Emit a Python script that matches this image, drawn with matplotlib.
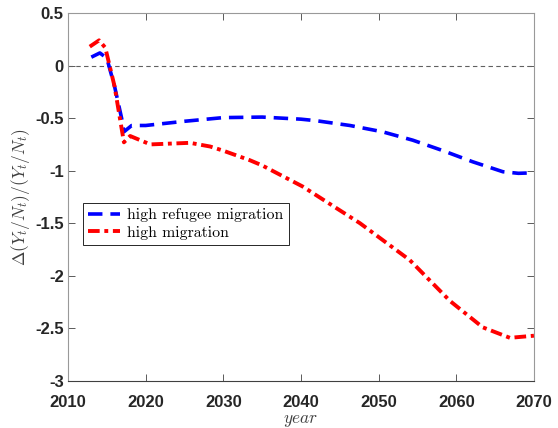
import numpy as np
import matplotlib
matplotlib.use('Agg')
import matplotlib.pyplot as plt

plt.rcParams['axes.unicode_minus'] = False
plt.rcParams['mathtext.fontset'] = 'cm'

# data
years_refugee = [2013, 2014.1, 2015, 2016, 2016.9, 2017.2, 2018.2, 2020, 2025, 2030,
                 2035, 2040, 2042, 2046.3, 2050.5, 2054.4, 2058.3, 2062.1, 2066, 2068, 2070]
refugee = [0.08, 0.12, 0.07, -0.2, -0.5, -0.63, -0.57, -0.57, -0.53, -0.495,
           -0.49, -0.51, -0.525, -0.57, -0.63, -0.71, -0.81, -0.915, -1.01, -1.025, -1.02]

years_migr = [2012.8, 2014, 2014.8, 2016, 2017.2, 2018, 2020.6, 2025.7, 2028.3, 2030,
              2033.4, 2035, 2040.2, 2047.6, 2054, 2059.2, 2063.4, 2066.9, 2070]
migr = [0.18, 0.24, 0.17, -0.2, -0.73, -0.67, -0.75, -0.735, -0.77, -0.81,
        -0.90, -0.95, -1.15, -1.50, -1.85, -2.24, -2.49, -2.59, -2.57]

xticks = [2010, 2020, 2030, 2040, 2050, 2060, 2070]
yticks = [0.5, 0, -0.5, -1, -1.5, -2, -2.5, -3]
ytick_labels = ['0.5', '0', '-0.5', '-1', '-1.5', '-2', '-2.5', '-3']

fig = plt.figure(figsize=(5.58, 4.28), dpi=100, facecolor='w')
ax = fig.add_axes([0.1219, 0.110, 0.835, 0.8596])

ax.axhline(0, color='#606060', lw=0.8, ls=(0, (4, 3)))
ax.plot(years_refugee, refugee, color='#0000ff', lw=2.6, ls=(0, (4, 2.2)),
        label='high refugee migration')
ax.plot(years_migr, migr, color='#ff0000', lw=2.8, ls=(0, (3, 1.2, 1, 1.2)),
        label='high migration')

ax.set_xlim(2010, 2070)
ax.set_ylim(-3, 0.5)
ax.set_xticks(xticks)
ax.set_yticks(yticks)
ax.set_yticklabels(ytick_labels)
for lab in ax.get_xticklabels() + ax.get_yticklabels():
    lab.set_fontfamily('Liberation Sans')
    lab.set_fontweight('bold')
    lab.set_fontsize(12)
    lab.set_color('#262626')
ax.tick_params(direction='in', top=True, right=True, length=5, width=0.6,
               color='#404040')
ax.tick_params(axis='x', pad=10)
ax.tick_params(axis='y', pad=3)
for side in ['left', 'right', 'top']:
    ax.spines[side].set_color('#999999')
ax.spines['bottom'].set_color('#404040')

ax.set_xlabel(r'$year$', fontsize=12.5, color='#404040', labelpad=1)
ax.set_ylabel(r'$\Delta(Y_t/N_t)/(Y_t/N_t)$', fontsize=12.5, color='#404040', labelpad=2)

leg = ax.legend(loc='upper left', bbox_to_anchor=(0.032, 0.484), prop={'family': 'cmr10', 'size': 11.4},
                fancybox=False, edgecolor='#262626', framealpha=1, handlelength=2.0,
                handletextpad=0.45, borderpad=0.35, labelspacing=0.2, borderaxespad=0)
leg.get_frame().set_linewidth(0.7)

fig.savefig('out.png', dpi=100)
